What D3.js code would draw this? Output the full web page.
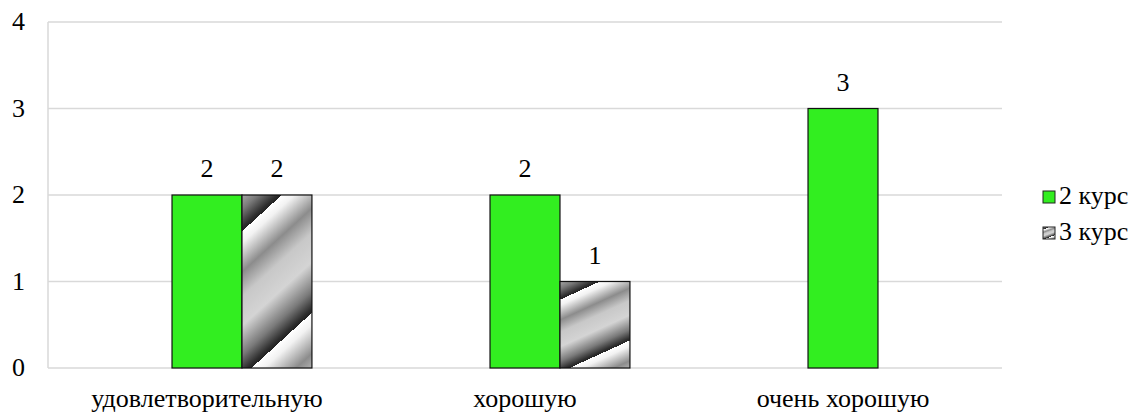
<!DOCTYPE html>
<html><head><meta charset="utf-8">
<script src="https://cdn.jsdelivr.net/npm/d3@7"></script>
<style>body{margin:0;background:#fff}</style>
</head><body>
<svg id="c" width="1141" height="417"></svg>
<script>
const categories = ["удовлетворительную", "хорошую", "очень хорошую"];
const seriesNames = ["2 курс", "3 курс"];
const values2 = [2, 2, 3];
const values3 = [2, 1, null];
const yTicks = [0, 1, 2, 3, 4];

const W = 1141, H = 417;
const m = {left: 48, right: 139, top: 22, bottom: 49};
const svg = d3.select("#c");
const K = 1.3;
// place text at (x,y) drawn with a 20px font scaled up to ~26px
const txt = (sel, fx, fy) => sel.attr("transform", (d, i) => `translate(${fx(d, i)},${fy(d, i)}) scale(${K})`)
  .style("font-family", '"Liberation Serif"').style("font-size", "20px");

const defs = svg.append("defs");
const g = defs.append("linearGradient").attr("id", "grayGrad")
  .attr("gradientUnits", "objectBoundingBox").attr("spreadMethod", "repeat")
  .attr("x1", 0.068).attr("y1", 0.185).attr("x2", 0.341).attr("y2", 0.924);
[[0, "#ffffff"], [0.08, "#f2f2f2"], [0.28, "#8c8c8c"], [0.45, "#c8c8c8"], [0.65, "#d4d4d4"], [0.85, "#7a7a7a"], [0.97, "#2e2e2e"], [1, "#222"]]
  .forEach(([o, c]) => g.append("stop").attr("offset", o).attr("stop-color", c));

const x0 = d3.scaleBand().domain(categories).range([m.left, W - m.right]);
const y = d3.scaleLinear().domain([0, 4]).range([H - m.bottom, m.top]);
const bw = x0.bandwidth() * 0.22;
const x1 = d3.scaleBand().domain(seriesNames).range([0, 2 * bw]);
const fills = {"2 курс": "#32ee20", "3 курс": "url(#grayGrad)"};

svg.selectAll("line.grid").data(yTicks).join("line").attr("class", "grid")
  .attr("x1", m.left).attr("x2", W - m.right)
  .attr("y1", d => y(d)).attr("y2", d => y(d))
  .attr("stroke", "#d9d9d9").attr("stroke-width", 1.5);
svg.append("line").attr("x1", m.left).attr("x2", m.left)
  .attr("y1", y(4)).attr("y2", y(0)).attr("stroke", "#d9d9d9").attr("stroke-width", 1.5);

svg.selectAll("text.ytick").data(yTicks).join("text").attr("class", "ytick")
  .attr("text-anchor", "end")
  .call(txt, () => 25, d => y(d) + 8).text(d => d);

const data = [];
categories.forEach((c, i) => {
  [[seriesNames[0], values2[i]], [seriesNames[1], values3[i]]].forEach(([s, v]) => {
    if (v != null) data.push({c, s, v});
  });
});
const bx = d => x0(d.c) + x0.bandwidth() / 2 - bw / 2 + x1(d.s);
svg.selectAll("rect.bar").data(data).join("rect").attr("class", "bar")
  .attr("x", bx).attr("y", d => y(d.v))
  .attr("width", x1.bandwidth()).attr("height", d => y(0) - y(d.v))
  .attr("fill", d => fills[d.s]).attr("stroke", "#111").attr("stroke-width", 1.2);

svg.selectAll("text.val").data(data).join("text").attr("class", "val")
  .attr("text-anchor", "middle")
  .call(txt, d => bx(d) + x1.bandwidth() / 2, d => y(d.v) - 18)
  .text(d => d.v);

svg.selectAll("text.cat").data(categories).join("text").attr("class", "cat")
  .attr("text-anchor", "middle")
  .call(txt, d => x0(d) + x0.bandwidth() / 2, () => 407)
  .text(d => d);

svg.selectAll("rect.leg").data(seriesNames).join("rect").attr("class", "leg")
  .attr("x", 1043).attr("y", (d, i) => 191 + i * 36).attr("width", 12).attr("height", 12)
  .attr("fill", d => fills[d]).attr("stroke", "#222").attr("stroke-width", 1);
svg.selectAll("text.leg").data(seriesNames).join("text").attr("class", "leg")
  .call(txt, () => 1059, (d, i) => 204 + i * 36)
  .text(d => d);
</script>
</body></html>
